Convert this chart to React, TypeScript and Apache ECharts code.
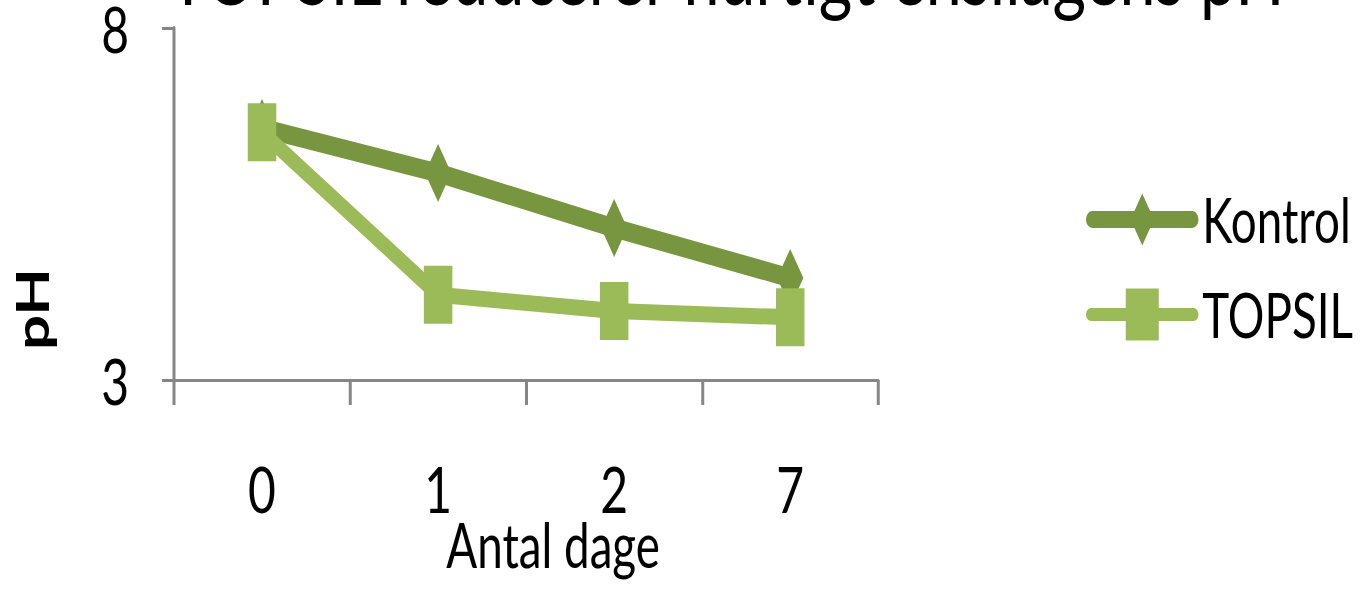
import React, { useEffect, useRef } from "react";
import * as echarts from "echarts";

const categories = ["0", "1", "2", "7"];
const kontrol = [6.58, 5.94, 5.16, 4.45];
const topsil = [6.52, 4.21, 3.98, 3.89];
const yTicks = [3, 8];

// The reference is drawn with tall, narrow (horizontally compressed) glyphs and marks.
// The chart is laid out on a wider canvas and compressed horizontally with CSS.
const SX = 0.75;
const W = Math.round(1360 / SX);
const H = 589;

const FONT = "Lato, 'Open Sans', 'Liberation Sans', sans-serif";
const DARK = "#77963F";
const LIGHT = "#9BBB59";

const kontrolIcon =
  "path://M8.5,17.5 L141.5,17.5 A8.5,8.5 0 0 1 141.5,34.5 L8.5,34.5 A8.5,8.5 0 0 1 8.5,17.5 Z M75,0 L90.5,26 L75,52 L59.5,26 Z";
const topsilIcon =
  "path://M6.5,19.5 L143.5,19.5 A6.5,6.5 0 0 1 143.5,32.5 L6.5,32.5 A6.5,6.5 0 0 1 6.5,19.5 Z M53,0 L97,0 L97,52 L53,52 Z";

export default function App() {
  const ref = useRef<HTMLDivElement>(null);
  useEffect(() => {
    if (!ref.current) return;
    const chart = echarts.init(ref.current, undefined, { renderer: "svg" });
    chart.setOption({
      animation: false,
      backgroundColor: "#ffffff",
      textStyle: { fontFamily: FONT },
      grid: {
        left: 232,
        right: W - 1171,
        top: 28,
        bottom: 209,
        containLabel: false,
        outerBoundsMode: "none",
      },
      xAxis: {
        type: "category",
        data: categories,
        boundaryGap: true,
        name: "Antal dage",
        nameLocation: "middle",
        nameGap: 134,
        nameMoveOverlap: false,
        nameTextStyle: { fontSize: 61, color: "#000", fontFamily: FONT, padding: [0, 0, 0, 72] },
        axisLine: { lineStyle: { color: "#868686", width: 3 } },
        axisTick: { show: true, length: 25, alignWithLabel: false, lineStyle: { color: "#868686", width: 4 } },
        axisLabel: { fontSize: 64, color: "#000", margin: 76, fontFamily: FONT },
        splitLine: { show: false },
      },
      yAxis: {
        type: "value",
        min: yTicks[0],
        max: yTicks[1],
        interval: yTicks[1] - yTicks[0],
        axisLine: { show: true, lineStyle: { color: "#868686", width: 4 } },
        axisTick: { show: true, length: 16, lineStyle: { color: "#868686", width: 3 } },
        axisLabel: { fontSize: 64, color: "#000", margin: 60, fontFamily: FONT, padding: [14, 0, 0, 0] },
        splitLine: { show: false },
      },
      legend: {
        orient: "vertical",
        left: 1443,
        top: 184,
        itemWidth: 150,
        itemHeight: 52,
        itemGap: 34,
        symbolKeepAspect: false,
        textStyle: { fontSize: 61, color: "#000", fontFamily: FONT },
        data: [
          { name: "Kontrol", icon: kontrolIcon, itemStyle: { color: DARK } },
          { name: "TOPSIL", icon: topsilIcon, itemStyle: { color: LIGHT } },
        ],
      },
      graphic: [
        {
          type: "text",
          x: 969,
          y: -28,
          style: {
            text: "TOPSIL reducerer hurtigt ensilagens pH",
            fontSize: 86,
            fontFamily: FONT,
            fill: "#000",
            align: "center",
            verticalAlign: "middle",
          },
        },
        {
          type: "text",
          x: 42,
          y: 309,
          rotation: Math.PI / 2,
          style: {
            text: "pH",
            fontSize: 62,
            fontWeight: "bold",
            fontFamily: FONT,
            fill: "#000",
            align: "center",
            verticalAlign: "middle",
          },
        },
      ],
      series: [
        {
          name: "Kontrol",
          type: "line",
          data: kontrol,
          symbol: "diamond",
          symbolSize: [35, 58],
          lineStyle: { color: DARK, width: 19, cap: "round", join: "round" },
          itemStyle: { color: DARK },
          z: 2,
        },
        {
          name: "TOPSIL",
          type: "line",
          data: topsil,
          symbol: "rect",
          symbolSize: [38, 58],
          lineStyle: { color: LIGHT, width: 16, cap: "round", join: "round" },
          itemStyle: { color: LIGHT },
          z: 3,
        },
      ],
    });
    return () => chart.dispose();
  }, []);
  return (
    <div
      style={{
        position: "fixed",
        left: 0,
        top: 0,
        width: 1360,
        height: H,
        overflow: "hidden",
        background: "#fff",
      }}
    >
      <div
        ref={ref}
        style={{ width: W, height: H, transform: `scaleX(${SX})`, transformOrigin: "0 0" }}
      />
    </div>
  );
}
